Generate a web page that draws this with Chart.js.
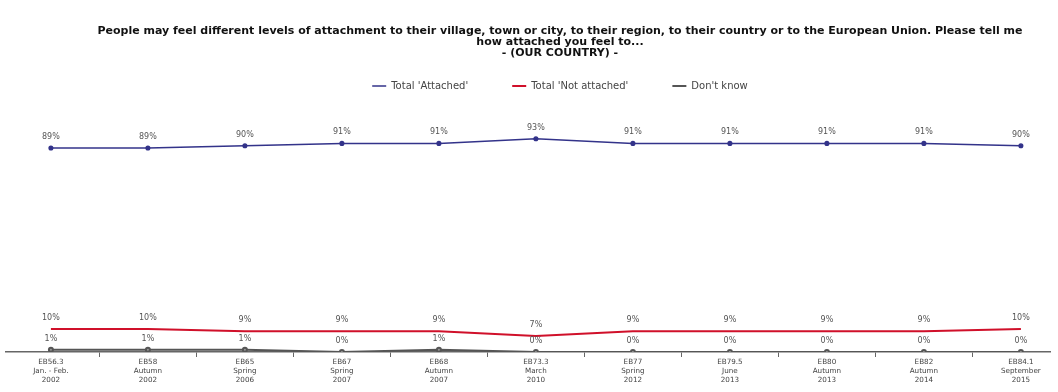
<!DOCTYPE html>
<html>
<head>
<meta charset="utf-8">
<script src="https://cdn.jsdelivr.net/npm/chart.js@4"></script>
<style>
  html, body { margin: 0; padding: 0; background: #fff; overflow: hidden; }
  #wrap { width: 1058px; height: 392px; overflow: hidden; }
</style>
</head>
<body>
<div id="wrap"><canvas id="chart" width="1115" height="392"></canvas></div>
<script>
const waves = [
  ['EB56.3', 'Jan. - Feb.', '2002'],
  ['EB58', 'Autumn', '2002'],
  ['EB65', 'Spring', '2006'],
  ['EB67', 'Spring', '2007'],
  ['EB68', 'Autumn', '2007'],
  ['EB73.3', 'March', '2010'],
  ['EB77', 'Spring', '2012'],
  ['EB79.5', 'June', '2013'],
  ['EB80', 'Autumn', '2013'],
  ['EB82', 'Autumn', '2014'],
  ['EB84.1', 'September', '2015']
];
const attached    = [89, 89, 90, 91, 91, 93, 91, 91, 91, 91, 90];
const notAttached = [10, 10, 9, 9, 9, 7, 9, 9, 9, 9, 10];
const dontKnow    = [1, 1, 1, 0, 1, 0, 0, 0, 0, 0, 0];

const toPoints = arr => arr.map((v, i) => ({ x: i, y: v }));

// percentage labels above every point
const valueLabels = {
  id: 'valueLabels',
  afterDatasetsDraw(chart) {
    const ctx = chart.ctx;
    ctx.save();
    ctx.font = '8px "DejaVu Sans"';
    ctx.fillStyle = '#555';
    ctx.textAlign = 'center';
    ctx.textBaseline = 'middle';
    chart.data.datasets.forEach((ds, di) => {
      const meta = chart.getDatasetMeta(di);
      meta.data.forEach((pt, i) => {
        ctx.fillText(ds.data[i].y + '%', pt.x, pt.y - 11);
      });
    });
    ctx.restore();
  }
};

new Chart(document.getElementById('chart'), {
  type: 'line',
  data: {
    datasets: [
      {
        label: "Total 'Attached'",
        data: toPoints(attached),
        borderColor: '#33338a',
        backgroundColor: '#33338a',
        borderWidth: 1.5,
        pointRadius: 1.8,
        tension: 0
      },
      {
        label: "Total 'Not attached'",
        data: toPoints(notAttached),
        borderColor: '#d0102a',
        backgroundColor: '#d0102a',
        borderWidth: 2,
        pointRadius: 0,
        tension: 0
      },
      {
        label: "Don't know",
        data: toPoints(dontKnow),
        borderColor: '#555',
        backgroundColor: '#999',
        borderWidth: 2,
        pointRadius: 2,
        tension: 0
      }
    ]
  },
  options: {
    responsive: false,
    animation: false,
    layout: { padding: { left: 5, right: 0, top: 26, bottom: 0 } },
    plugins: {
      title: {
        display: true,
        text: [
          'People may feel different levels of attachment to their village, town or city, to their region, to their country or to the European Union. Please tell me',
          'how attached you feel to...',
          '- (OUR COUNTRY) -'
        ],
        font: { family: '"DejaVu Sans"', size: 11, weight: 'bold', lineHeight: 1.0 },
        color: '#111',
        padding: { top: 0, bottom: -22 }
      },
      legend: {
        position: 'top',
        labels: {
          usePointStyle: true,
          pointStyle: 'line',
          pointStyleWidth: 14,
          padding: 44,
          color: '#444',
          font: { family: '"DejaVu Sans"', size: 10 }
        }
      },
      tooltip: { enabled: false }
    },
    scales: {
      x: {
        type: 'linear',
        min: -0.463,
        max: 10.3,
        afterBuildTicks: axis => {
          const t = [];
          for (let v = 0; v <= 10; v += 0.5) t.push({ value: v });
          axis.ticks = t;
        },
        afterFit: axis => { axis.height = 40; },
        ticks: {
          autoSkip: false,
          maxRotation: 0,
          padding: 0,
          color: '#444',
          font: { family: '"DejaVu Sans"', size: 7.2, lineHeight: 1.3 },
          callback: v => Number.isInteger(v) ? waves[v] : ''
        },
        grid: {
          drawOnChartArea: false,
          tickLength: 5,
          color: c => (c.tick && !Number.isInteger(c.tick.value)) ? '#666' : 'rgba(0,0,0,0)'
        },
        border: { color: '#666', width: 1.5 }
      },
      y: {
        display: false,
        min: 0,
        max: 109.5
      },
      spacer: {
        position: 'right',
        display: true,
        ticks: { display: false },
        grid: { display: false },
        border: { display: false },
        afterFit: s => { s.width = 65; }
      }
    }
  },
  plugins: [valueLabels]
});
</script>
</body>
</html>
